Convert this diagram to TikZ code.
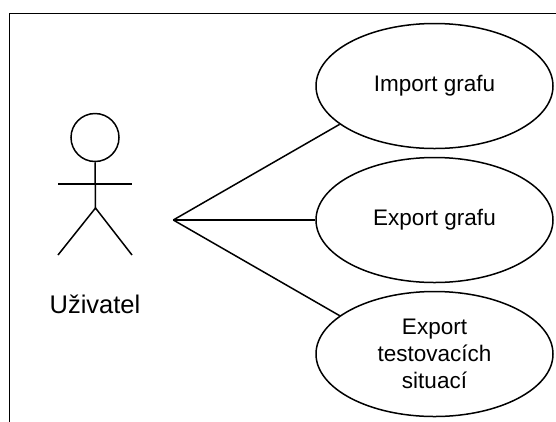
\documentclass[tikz,border=0pt]{standalone}
\usepackage{fontspec}
\setmainfont{Liberation Sans}
\usetikzlibrary{shapes.geometric}
\begin{document}
\begin{tikzpicture}[x=1pt,y=-1pt,
  line width=1.5pt,
  usecase/.style={draw, ellipse, minimum width=237pt, minimum height=125pt,
    inner sep=0pt, align=center, font=\fontsize{22.5}{26.7}\selectfont},
  actorlabel/.style={anchor=base, inner sep=0pt, font=\fontsize{25.5}{30}\selectfont}]
\useasboundingbox (0,0) rectangle (556,421);
% frame, cut off on the right and bottom
\draw[line width=1.2pt] (9.5,600) -- (9.5,13.3) -- (700,13.3);

% actor
\node[draw, circle, minimum size=48pt, inner sep=0pt] (head) at (95,137.5) {};
\coordinate (neck) at (95.5,162);
\coordinate (hip) at (95.5,208);
\coordinate (larm) at (58,184);
\coordinate (rarm) at (132,184);
\coordinate (lfoot) at (58,255);
\coordinate (rfoot) at (132,255);
\draw (head.south) -- (hip);
\draw (larm) -- (rarm);
\draw (lfoot) -- (hip) -- (rfoot);
\node[actorlabel] (user) at (95,313) {Uživatel};

% use cases
\node[usecase] (imp) at (434.5,86) {Import grafu};
\node[usecase] (exp) at (434.5,220) {Export grafu};
\node[usecase] (tst) at (434.5,354) {Export\\testovacích\\situací};

% associations
\coordinate (apex) at (173.3,220);
\draw (apex) -- (imp.202);
\draw (apex) -- (exp.west);
\draw (apex) -- (tst.158);
\end{tikzpicture}
\end{document}
